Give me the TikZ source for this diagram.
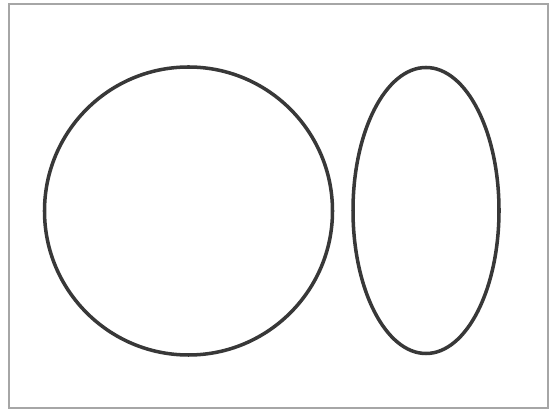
\documentclass[tikz,border=0pt]{standalone}
\begin{document}
\begin{tikzpicture}[x=0.02cm,y=-0.02cm]
\useasboundingbox (0,0) rectangle (554,411);
\draw[gray!70,line width=0.8pt] (9,4) rectangle (548,408);
% round shape and flat shape
\draw[black!78,line width=2pt] (188.5,211) circle [radius=144];
\draw[black!78,line width=2pt] (426,210.5) ellipse [x radius=73,y radius=143];
\end{tikzpicture}
\end{document}
